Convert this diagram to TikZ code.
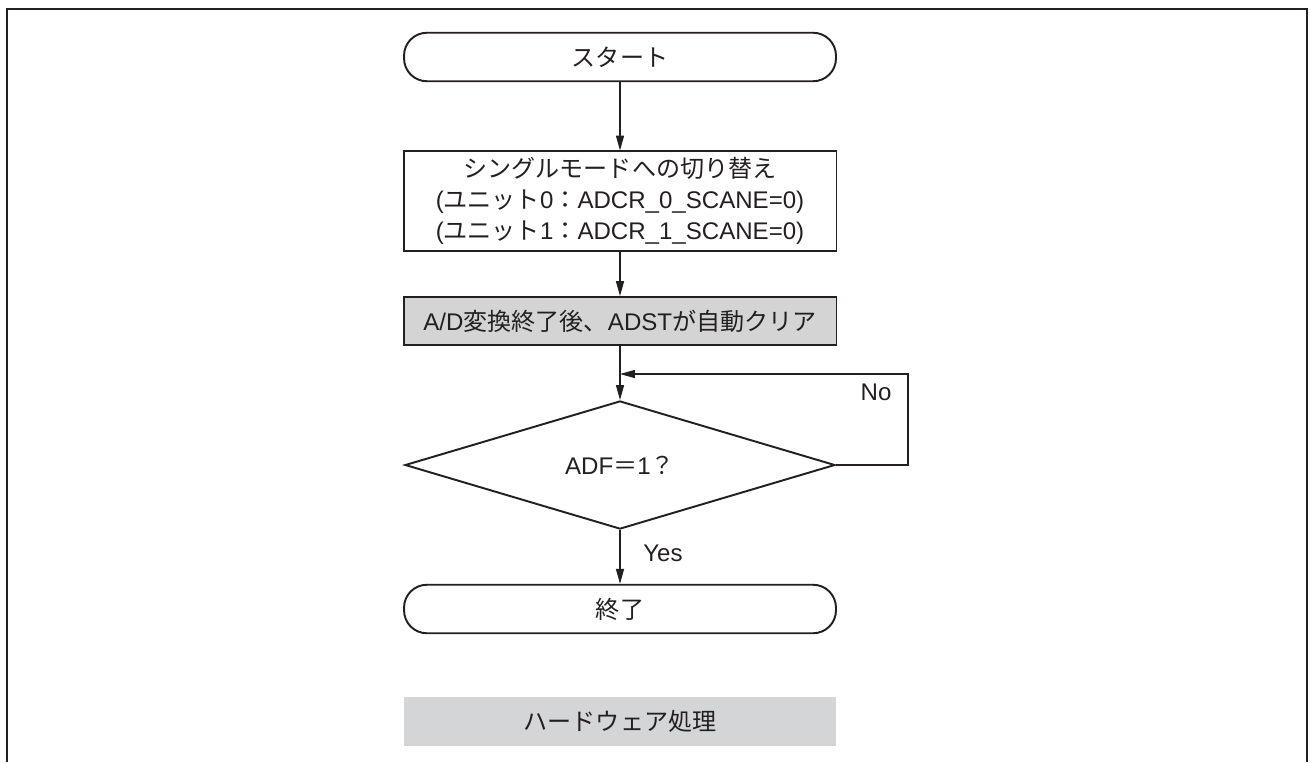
\documentclass[tikz,border=0pt]{standalone}
\usepackage{fontspec}
\setmainfont{Liberation Sans}
\newfontfamily\jp{Noto Sans CJK JP}
\usetikzlibrary{arrows.meta, positioning, shapes.geometric}
\definecolor{TX}{RGB}{35,31,32}
\definecolor{PG}{RGB}{212,212,212}
\definecolor{HW}{RGB}{212,213,215}
\newcommand\fsz{\fontsize{13.7pt}{15.4pt}\selectfont}

\begin{document}
\begin{tikzpicture}[
  x=0.02cm, y=-0.02cm,
  term/.style={draw=TX, line width=1.1pt, rounded corners=13pt,
               minimum width=8.64cm, minimum height=0.97cm,
               font=\fsz, text=TX},
  proc/.style={draw=TX, line width=1.1pt, minimum width=8.66cm,
               align=center, font=\fsz, text=TX},
  decn/.style={draw=TX, line width=1.1pt, diamond, inner sep=0pt,
               minimum width=8.6cm, minimum height=1.92cm,
               font=\fsz, text=TX},
  conn/.style={draw=TX, line width=0.6pt,
               -{Triangle[length=8.5pt,width=4.6pt]}},
  lbl/.style={font=\fsz, text=TX}
]
\useasboundingbox (0,0) rectangle (1310,762);

% outer frame, open at the bottom
\draw[TX, line width=1.3pt] (7,762) -- (7,9) -- (1307,9) -- (1307,762);

% flow
\node[term] (start) at (620,57) {\jp スタート};
\node[proc, minimum height=1.92cm] (single) at (620,201)
  {{\jp シングルモードへの切り替え}\\[2.3pt]
   ({\jp ユニット}0{\jp ：}ADCR\_0\_SCANE=0)\\[2.3pt]
   ({\jp ユニット}1{\jp ：}ADCR\_1\_SCANE=0)};
\node[proc, fill=PG, minimum height=0.96cm] (adst) at (620,321)
  {A/D{\jp 変換終了後、}ADST{\jp が自動クリア}};
\node[decn] (adf) at (620,465) {ADF{\jp ＝}1{\jp ？}};
\node[term] (fin) at (620,609) {\jp 終了};

% legend
\node[fill=HW, minimum width=8.66cm, minimum height=0.98cm,
      font=\fsz, text=TX] (hw) at (620,721) {\jp ハードウェア処理};

% connectors
\draw[conn] (start) -- (single);
\draw[conn] (single) -- (adst);
\draw[conn] (adst) -- (adf);
\draw[conn] (adf) -- (fin);
\coordinate (loopc) at (908,374);
\draw[conn] (adf.east) -| (loopc) -- (adf.north |- loopc);

% labels
\node[lbl] (no) at (876,392) {No};
\node[lbl] (yes) at (663,553) {Yes};
\end{tikzpicture}
\end{document}
